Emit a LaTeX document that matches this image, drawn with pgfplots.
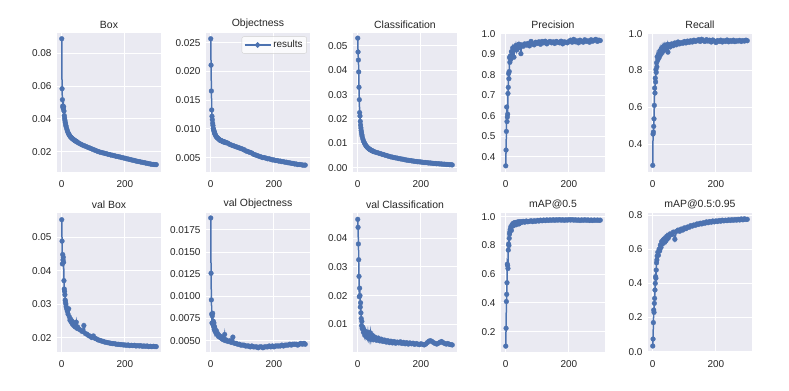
\documentclass[border=0pt]{standalone}
\usepackage{fontspec}
\setmainfont{Liberation Sans}
\usepackage{pgfplots}
\usepackage{pgfplotstable}
\pgfplotsset{compat=1.18}

\definecolor{sbblue}{HTML}{4C72B0}
\definecolor{sbbg}{HTML}{EAEAF2}
\definecolor{sbtext}{HTML}{262626}

% epoch, train losses, precision/recall, val losses, mAP
\pgfplotstableread{
ep box obj cls prec rec vbox vobj vcls mapf mapb
0 0.0889 0.0257 0.0532 0.355 0.285 0.0552 0.01886 0.0466 0.100 0.033
1 0.0584 0.0211 0.0475 0.432 0.455 0.0488 0.01261 0.0438 0.224 0.074
2 0.0517 0.0166 0.0442 0.523 0.466 0.0420 0.0096 0.0380 0.410 0.170
3 0.0478 0.0133 0.0393 0.642 0.497 0.0448 0.0080 0.0325 0.460 0.244
4 0.0470 0.0122 0.0330 0.571 0.538 0.0432 0.0070 0.0267 0.541 0.230
5 0.0462 0.0116 0.0279 0.593 0.611 0.0440 0.0078 0.0196 0.670 0.283
6 0.0475 0.0110 0.0226 0.607 0.705 0.0425 0.0081 0.0226 0.660 0.312
7 0.0448 0.0106 0.0212 0.708 0.678 0.0370 0.0068 0.0200 0.640 0.361
8 0.0420 0.0101 0.0190 0.738 0.759 0.0345 0.0072 0.0160 0.768 0.400
9 0.0405 0.0099 0.0175 0.805 0.738 0.0338 0.0066 0.0175 0.810 0.439
10 0.0392 0.0097 0.0163 0.780 0.805 0.0328 0.0070 0.0140 0.800 0.430
11 0.0380 0.0095 0.0152 0.815 0.790 0.0312 0.0063 0.0120 0.850 0.478
12 0.0370 0.0093 0.0143 0.883 0.842 0.0306 0.0066 0.0095 0.880 0.520
13 0.0360 0.0092 0.0135 0.860 0.820 0.0300 0.0061 0.0110 0.895 0.537
14 0.0352 0.0090 0.0128 0.890 0.875 0.0292 0.0063 0.0085 0.912 0.560
16 0.0338 0.0088 0.0118 0.875 0.858 0.0285 0.0059 0.0090 0.930 0.582
18 0.0326 0.0086 0.0110 0.912 0.888 0.0278 0.0061 0.0072 0.905 0.565
20 0.0316 0.0085 0.0104 0.893 0.870 0.0270 0.0057 0.0080 0.945 0.600
22 0.0308 0.0084 0.0099 0.930 0.905 0.0286 0.0058 0.0062 0.935 0.590
24 0.0301 0.0083 0.0094 0.918 0.885 0.0262 0.0055 0.0075 0.955 0.624
26 0.0295 0.0082 0.0090 0.885 0.915 0.0252 0.0056 0.0058 0.940 0.610
28 0.0290 0.0081 0.0087 0.935 0.895 0.0255 0.0054 0.0068 0.958 0.644
30 0.0286 0.0080 0.0084 0.925 0.925 0.0246 0.0055 0.0055 0.950 0.630
32 0.0282 0.0080 0.0081 0.942 0.905 0.0250 0.0053 0.0072 0.960 0.652
34 0.0279 0.0079 0.0079 0.920 0.930 0.0240 0.0054 0.0052 0.945 0.638
36 0.0276 0.0079 0.0077 0.938 0.912 0.0245 0.0052 0.0065 0.962 0.660
38 0.0273 0.0078 0.0075 0.945 0.935 0.0236 0.0053 0.0050 0.955 0.642
40 0.0270 0.0078 0.0073 0.930 0.918 0.0240 0.0051 0.0070 0.965 0.665
42 0.0267 0.0077 0.0072 0.948 0.938 0.0232 0.0052 0.0048 0.950 0.650
44 0.0265 0.0077 0.0070 0.935 0.925 0.0235 0.0057 0.0062 0.963 0.675
46 0.0262 0.0077 0.0069 0.940 0.940 0.0246 0.0050 0.0050 0.958 0.660
48 0.0260 0.0076 0.0068 0.902 0.900 0.0228 0.0051 0.0060 0.966 0.680
50 0.0257 0.0076 0.0066 0.945 0.942 0.0232 0.0050 0.0046 0.960 0.668
55 0.0251 0.0075 0.0064 0.938 0.928 0.0225 0.0049 0.0055 0.968 0.690
60 0.0246 0.0073 0.0062 0.950 0.945 0.0222 0.0050 0.0044 0.962 0.685
65 0.0241 0.0072 0.0060 0.944 0.935 0.0218 0.0048 0.0052 0.970 0.700
70 0.0237 0.0071 0.0058 0.952 0.950 0.0236 0.0054 0.0042 0.965 0.658
75 0.0233 0.0070 0.0056 0.940 0.940 0.0212 0.0047 0.0048 0.968 0.705
80 0.0229 0.0069 0.0054 0.962 0.955 0.0210 0.0047 0.0040 0.972 0.712
85 0.0225 0.0068 0.0052 0.950 0.945 0.0206 0.0046 0.0045 0.966 0.705
90 0.0221 0.0067 0.0050 0.945 0.952 0.0204 0.0046 0.0038 0.972 0.718
95 0.0217 0.0066 0.0048 0.958 0.948 0.0200 0.0045 0.0043 0.968 0.712
100 0.0213 0.0065 0.0046 0.952 0.958 0.0205 0.0045 0.0036 0.974 0.725
105 0.0209 0.0064 0.0044 0.960 0.950 0.0198 0.0045 0.0041 0.970 0.720
110 0.0205 0.0062 0.0043 0.948 0.960 0.0196 0.0044 0.0035 0.976 0.730
115 0.0201 0.0061 0.0041 0.962 0.953 0.0193 0.0044 0.0040 0.972 0.728
120 0.0198 0.0060 0.0040 0.955 0.962 0.0192 0.0044 0.0034 0.977 0.738
125 0.0195 0.0059 0.0039 0.963 0.955 0.0190 0.0043 0.0038 0.973 0.735
130 0.0193 0.0058 0.0037 0.950 0.965 0.0189 0.0044 0.0035 0.978 0.742
135 0.0190 0.0056 0.0036 0.958 0.958 0.0187 0.0043 0.0039 0.974 0.740
140 0.0188 0.0055 0.0035 0.962 0.962 0.0186 0.0043 0.0033 0.978 0.748
145 0.0185 0.0054 0.0034 0.955 0.968 0.0185 0.0043 0.0037 0.975 0.745
150 0.0183 0.0053 0.0032 0.960 0.958 0.0184 0.0042 0.0032 0.979 0.752
155 0.0180 0.0052 0.0031 0.952 0.970 0.0183 0.0043 0.0036 0.975 0.748
160 0.0178 0.0051 0.0030 0.962 0.962 0.0182 0.0043 0.0031 0.979 0.755
165 0.0176 0.0050 0.0029 0.958 0.958 0.0182 0.0042 0.0035 0.976 0.752
170 0.0173 0.0050 0.0028 0.955 0.968 0.0181 0.0043 0.0032 0.980 0.760
175 0.0171 0.0049 0.0027 0.963 0.960 0.0180 0.0043 0.0034 0.976 0.755
180 0.0169 0.0048 0.0026 0.950 0.965 0.0180 0.0043 0.0030 0.979 0.762
185 0.0167 0.0048 0.0025 0.960 0.955 0.0179 0.0044 0.0033 0.975 0.758
190 0.0164 0.0047 0.0024 0.958 0.966 0.0179 0.0043 0.0031 0.979 0.765
195 0.0162 0.0046 0.0024 0.955 0.960 0.0178 0.0044 0.0029 0.976 0.760
200 0.0160 0.0046 0.0023 0.962 0.952 0.0178 0.0043 0.0032 0.980 0.766
205 0.0157 0.0045 0.0022 0.968 0.963 0.0177 0.0044 0.0030 0.977 0.762
210 0.0155 0.0045 0.0021 0.958 0.958 0.0178 0.0044 0.0028 0.980 0.768
215 0.0153 0.0044 0.0021 0.972 0.965 0.0176 0.0044 0.0031 0.976 0.764
220 0.0150 0.0044 0.0020 0.960 0.955 0.0177 0.0044 0.0036 0.979 0.770
225 0.0148 0.0043 0.0019 0.965 0.962 0.0176 0.0045 0.0041 0.975 0.766
230 0.0146 0.0043 0.0019 0.955 0.958 0.0177 0.0044 0.0043 0.978 0.770
235 0.0143 0.0042 0.0018 0.968 0.966 0.0175 0.0045 0.0040 0.974 0.767
240 0.0141 0.0042 0.0017 0.962 0.956 0.0176 0.0045 0.0036 0.978 0.772
245 0.0139 0.0041 0.0017 0.958 0.963 0.0175 0.0045 0.0033 0.975 0.768
250 0.0137 0.0041 0.0016 0.970 0.958 0.0176 0.0046 0.0031 0.979 0.773
255 0.0135 0.0040 0.0016 0.962 0.965 0.0174 0.0045 0.0034 0.975 0.769
260 0.0133 0.0040 0.0015 0.965 0.957 0.0175 0.0046 0.0037 0.978 0.774
265 0.0131 0.0039 0.0015 0.958 0.962 0.0174 0.0046 0.0040 0.974 0.770
270 0.0129 0.0039 0.0014 0.970 0.960 0.0175 0.0046 0.0036 0.977 0.775
275 0.0127 0.0038 0.0014 0.963 0.964 0.0173 0.0045 0.0033 0.974 0.771
280 0.0125 0.0038 0.0013 0.968 0.958 0.0174 0.0046 0.0031 0.977 0.777
285 0.0123 0.0038 0.0013 0.972 0.963 0.0173 0.0047 0.0033 0.975 0.772
290 0.0122 0.0037 0.0012 0.962 0.960 0.0174 0.0046 0.0030 0.977 0.778
295 0.0121 0.0037 0.0012 0.968 0.965 0.0173 0.0047 0.0029 0.975 0.774
299 0.0121 0.0037 0.0011 0.966 0.962 0.0173 0.0046 0.0028 0.976 0.775
}\res

\pgfplotsset{
  yolo/.style={
    scale only axis, width=104bp, height=139bp,
    xmin=-15, xmax=314, xtick={0,200},
    axis background/.style={fill=sbbg},
    axis line style={draw=none},
    major tick length=0pt,
    grid=major, grid style={white, line width=1bp},
    tick label style={font=\fontsize{10}{11}\selectfont, text=sbtext},
    xticklabel style={yshift=-5bp},
    yticklabel style={xshift=-2bp},
    title style={font=\fontsize{10.5}{12}\selectfont, text=sbtext, yshift=-5bp},
    /pgf/number format/assume math mode=true,
    scaled y ticks=false,
  },
  res/.style={color=sbblue, line width=1.5bp, mark=*, mark size=2.4bp,
    mark options={solid, fill=sbblue, draw=sbblue, line width=0.3bp}},
  prec/.style={yticklabel style={/pgf/number format/.cd, fixed, fixed zerofill, precision=#1}},
}

\begin{document}
\begin{tikzpicture}
\fill[white] (0,0) rectangle (789bp,391bp);
\path[use as bounding box] (0,0) rectangle (789bp,391bp);

% top row
\begin{axis}[yolo, at={(57bp,219bp)}, anchor=south west, title={Box},
  ymin=0.0076, ymax=0.0924, ytick={0.02,0.04,0.06,0.08}, prec=2]
\addplot[res] table[x=ep, y=box] {\res};
\end{axis}
\begin{axis}[yolo, at={(206bp,219bp)}, anchor=south west, title={Objectness},
  ymin=0.0025, ymax=0.0267, ytick={0.005,0.010,0.015,0.020,0.025}, prec=3,
  legend style={at={(0.97,0.975)}, anchor=north east, fill=white, fill opacity=0.8, text opacity=1,
    draw=black!18, rounded corners=2bp, font=\fontsize{10}{11}\selectfont, text=sbtext,
    inner sep=2bp},
  legend image code/.code={\draw[sbblue, line width=1.5bp] (0bp,0bp) -- (26bp,0bp);
    \fill[sbblue] (13bp,0bp) circle (1.9bp);}]
\addplot[res] table[x=ep, y=obj] {\res};
\addlegendentry{results}
\end{axis}
\begin{axis}[yolo, at={(353bp,219bp)}, anchor=south west, title={Classification},
  ymin=-0.0018, ymax=0.0553, ytick={0,0.01,0.02,0.03,0.04,0.05}, prec=2]
\addplot[res] table[x=ep, y=cls] {\res};
\end{axis}
\begin{axis}[yolo, at={(501bp,219bp)}, anchor=south west, title={Precision},
  ymin=0.325, ymax=1.003, ytick={0.4,0.5,0.6,0.7,0.8,0.9,1.0}, prec=1]
\addplot[res] table[x=ep, y=prec] {\res};
\end{axis}
\begin{axis}[yolo, at={(648bp,219bp)}, anchor=south west, title={Recall},
  ymin=0.249, ymax=1.004, ytick={0.4,0.6,0.8,1.0}, prec=1]
\addplot[res] table[x=ep, y=rec] {\res};
\end{axis}

% bottom row
\begin{axis}[yolo, at={(57bp,39bp)}, anchor=south west, title={val Box},
  ymin=0.0157, ymax=0.0572, ytick={0.02,0.03,0.04,0.05}, prec=2]
\addplot[res] table[x=ep, y=vbox] {\res};
\end{axis}
\begin{axis}[yolo, at={(206bp,39bp)}, anchor=south west, title={val Objectness},
  ymin=0.00372, ymax=0.01942, ytick={0.005,0.0075,0.01,0.0125,0.015,0.0175}, prec=4]
\addplot[res] table[x=ep, y=vobj] {\res};
\end{axis}
\begin{axis}[yolo, at={(353bp,39bp)}, anchor=south west, title={val Classification},
  ymin=0.00034, ymax=0.0488, ytick={0.01,0.02,0.03,0.04}, prec=2]
\addplot[res] table[x=ep, y=vcls] {\res};
\end{axis}
\begin{axis}[yolo, at={(501bp,39bp)}, anchor=south west, title={mAP@0.5},
  ymin=0.059, ymax=1.026, ytick={0.2,0.4,0.6,0.8,1.0}, prec=1]
\addplot[res] table[x=ep, y=mapf] {\res};
\end{axis}
\begin{axis}[yolo, at={(648bp,39bp)}, anchor=south west, title={mAP@0.5:0.95},
  ymin=-0.002, ymax=0.812, ytick={0,0.2,0.4,0.6,0.8}, prec=1]
\addplot[res] table[x=ep, y=mapb] {\res};
\end{axis}
\end{tikzpicture}
\end{document}
